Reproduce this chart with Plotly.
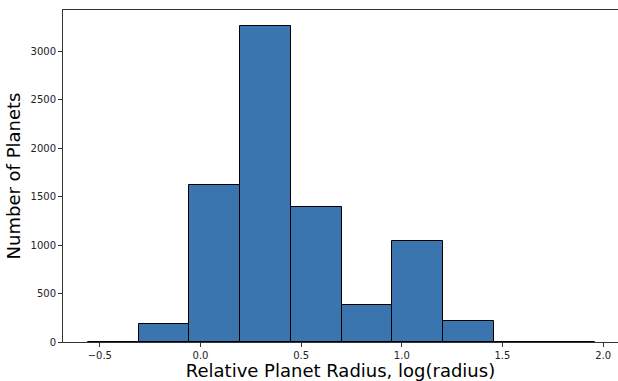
import plotly.graph_objects as go

bin_edges = [-0.559, -0.307, -0.055, 0.197, 0.449, 0.701, 0.953, 1.205, 1.457, 1.709, 1.961]
counts = [4, 182, 1624, 3260, 1394, 382, 1042, 214, 3, 2]
y_ticks = [0, 500, 1000, 1500, 2000, 2500, 3000]
x_ticks = [-0.5, 0.0, 0.5, 1.0, 1.5, 2.0]

centers = [(a + b) / 2 for a, b in zip(bin_edges[:-1], bin_edges[1:])]
widths = [b - a for a, b in zip(bin_edges[:-1], bin_edges[1:])]

fig = go.Figure(go.Bar(
    x=centers, y=counts, width=widths,
    marker=dict(color="#3a75af", line=dict(color="black", width=1)),
))

font = "DejaVu Sans"
fig.update_layout(
    width=618, height=381,
    margin=dict(l=63, r=0, t=10, b=39),
    plot_bgcolor="white", paper_bgcolor="white",
    showlegend=False,
    font=dict(family=font, color="black"),
    bargap=0,
)
fig.update_xaxes(
    range=[-0.683, 2.074],
    tickvals=x_ticks, ticktext=["−0.5", "0.0", "0.5", "1.0", "1.5", "2.0"],
    ticks="outside", ticklen=4, tickcolor="#333", tickwidth=1,
    tickfont=dict(size=10, family=font, color="#222"),
    showline=True, linecolor="#333", linewidth=1, mirror=True,
    showgrid=False, zeroline=False,
    title=dict(text="Relative Planet Radius, log(radius)", font=dict(size=18, family=font), standoff=3),
)
fig.update_yaxes(
    range=[0, 3426],
    tickvals=y_ticks,
    ticks="outside", ticklen=4, tickcolor="#333", tickwidth=1,
    tickfont=dict(size=10, family=font, color="#222"),
    showline=True, linecolor="#333", linewidth=1, mirror=False,
    showgrid=False, zeroline=False,
    title=dict(text="Number of Planets", font=dict(size=18, family=font), standoff=5),
)

fig.write_html("out.html")
